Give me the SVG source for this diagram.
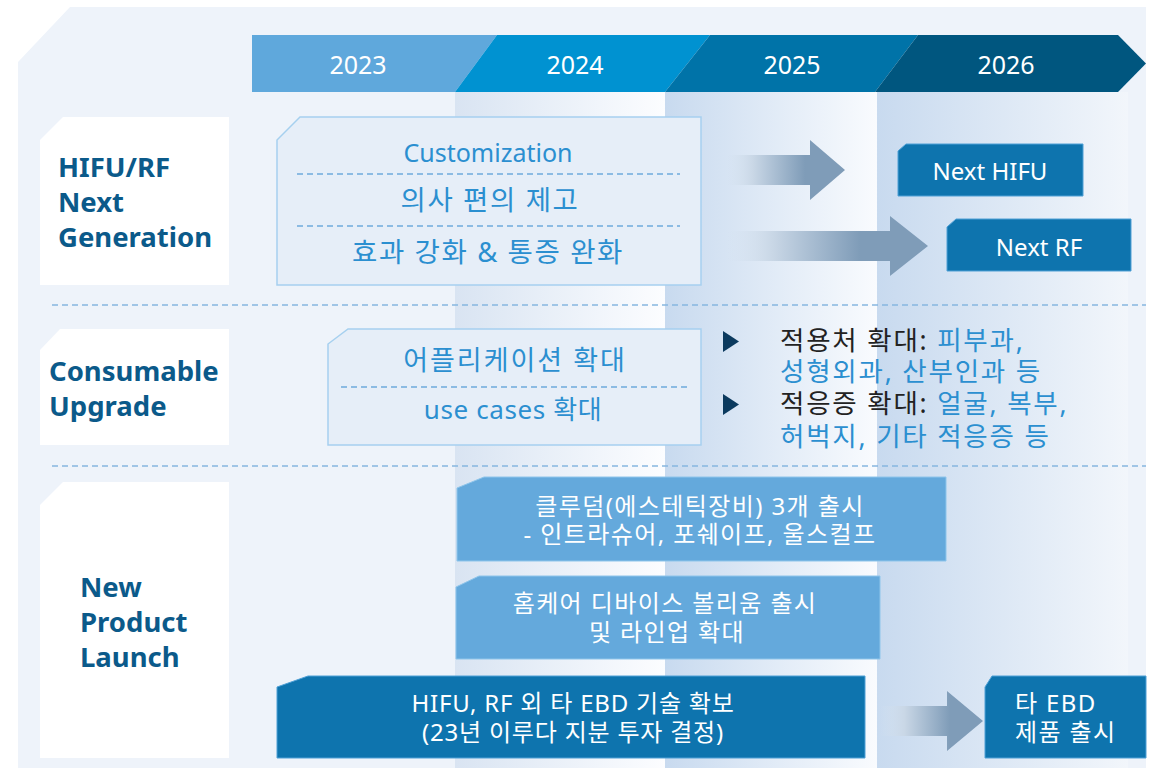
<svg xmlns="http://www.w3.org/2000/svg" width="1158" height="768" viewBox="0 0 1158 768">
<defs>
<style>
text{font-family:"Noto Sans","Noto Sans CJK KR",sans-serif;}
.yr{fill:#fff;font-size:25px;text-anchor:middle;}
.lbl{fill:#0B5A8A;font-size:27.5px;font-weight:700;}
.lblbox{fill:#fff;}
.cbox{fill:#E6EEF8;stroke:#A6D0EF;stroke-width:1.5;}
.ct{fill:#2B8FD0;text-anchor:middle;}
.kr{letter-spacing:1.6px;}
.dash{stroke:#6FAADC;stroke-width:1.5;stroke-dasharray:6 4;fill:none;}
.sep{stroke:#86B6DF;stroke-width:1.5;stroke-dasharray:6 4;fill:none;}
.lt{fill:#64A9DC;stroke:#8EC5EB;stroke-width:1;}
.dk{fill:#0E74AE;stroke:#4FA0D6;stroke-width:1;}
.wt{fill:#fff;font-size:24px;text-anchor:middle;letter-spacing:1.4px;}
.bt{font-size:26.5px;letter-spacing:1.8px;}
.k{fill:#222;}
.b{fill:#2B8FD0;}
.tri{fill:#0B3A5E;}
</style>
<linearGradient id="g24" x1="455" y1="0" x2="665" y2="0" gradientUnits="userSpaceOnUse">
<stop offset="0" stop-color="#D9E4F2"/><stop offset="1" stop-color="#FCFDFF"/></linearGradient>
<linearGradient id="g25" x1="665" y1="0" x2="877" y2="0" gradientUnits="userSpaceOnUse">
<stop offset="0" stop-color="#C8DAEF"/><stop offset="1" stop-color="#F9FBFE"/></linearGradient>
<linearGradient id="g26" x1="877" y1="0" x2="1128" y2="0" gradientUnits="userSpaceOnUse">
<stop offset="0" stop-color="#C8DAEF"/><stop offset="1" stop-color="#F2F6FB"/></linearGradient>
<linearGradient id="a1" x1="725" y1="0" x2="805" y2="0" gradientUnits="userSpaceOnUse">
<stop offset="0" stop-color="#D6E3F1" stop-opacity="0"/><stop offset="0.35" stop-color="#C9D7E6"/><stop offset="1" stop-color="#7F9CB8"/></linearGradient>
<linearGradient id="a2" x1="725" y1="0" x2="860" y2="0" gradientUnits="userSpaceOnUse">
<stop offset="0" stop-color="#D6E3F1" stop-opacity="0"/><stop offset="0.35" stop-color="#C9D7E6"/><stop offset="1" stop-color="#7F9CB8"/></linearGradient>
<linearGradient id="a3" x1="880" y1="0" x2="950" y2="0" gradientUnits="userSpaceOnUse">
<stop offset="0" stop-color="#D6E3F1" stop-opacity="0"/><stop offset="0.35" stop-color="#C9D7E6"/><stop offset="1" stop-color="#7F9CB8"/></linearGradient>
</defs>

<rect width="1158" height="768" fill="#fff"/>
<g id="background">
<polygon points="70,7 1146,7 1146,768 18,768 18,62" fill="#EEF3FA"/>
<rect x="455" y="92" width="210" height="676" fill="url(#g24)"/>
<rect x="665" y="92" width="212" height="676" fill="url(#g25)"/>
<rect x="877" y="92" width="251" height="676" fill="url(#g26)"/>
<line class="sep" x1="52" y1="305" x2="1146" y2="305"/>
<line class="sep" x1="52" y1="466" x2="1146" y2="466"/>
</g>

<g id="timeline">
<polygon points="252,35 497,35 455,92 252,92" fill="#5FA8DC"/>
<polygon points="497,35 710,35 665,92 455,92" fill="#0092D1"/>
<polygon points="710,35 918,35 875,92 665,92" fill="#0073A8"/>
<polygon points="918,35 1118,35 1146,63.5 1118,92 875,92" fill="#00567F"/>
<text class="yr" x="358" y="74">2023</text>
<text class="yr" x="575" y="74">2024</text>
<text class="yr" x="792" y="74">2025</text>
<text class="yr" x="1006" y="74">2026</text>
</g>

<g id="label-hifu">
<polygon class="lblbox" points="63,117 229,117 229,285 40,285 40,140"/>
<text class="lbl" x="58" y="177">HIFU/RF</text>
<text class="lbl" x="58" y="212">Next</text>
<text class="lbl" x="58" y="247">Generation</text>
</g>

<g id="box-hifu">
<polygon class="cbox" points="300,117 701,117 701,285 277,285 277,140"/>
<text class="ct" x="488" y="162" font-size="25">Customization</text>
<line class="dash" x1="297" y1="174" x2="680" y2="174"/>
<text class="ct kr" x="490" y="210" font-size="27.5">의사 편의 제고</text>
<line class="dash" x1="297" y1="226" x2="680" y2="226"/>
<text class="ct kr" x="488" y="262" font-size="27.5">효과 강화 &amp; 통증 완화</text>
</g>

<g id="next-hifu">
<polygon class="dk" points="906,144 1083,144 1083,196 898,196 898,151"/>
<text class="wt" x="990" y="180" font-size="23" style="letter-spacing:0">Next HIFU</text>
</g>

<g id="next-rf">
<polygon class="dk" points="956,219 1131,219 1131,271 947,271 947,227"/>
<text class="wt" x="1039" y="256" font-size="23" style="letter-spacing:0">Next RF</text>
</g>

<g id="label-consumable">
<polygon class="lblbox" points="60,329 229,329 229,445 40,445 40,350"/>
<text class="lbl" x="49" y="381">Consumable</text>
<text class="lbl" x="49" y="416">Upgrade</text>
</g>

<g id="box-consumable">
<polygon class="cbox" points="348,329 701,329 701,445 328,445 328,344"/>
<text class="ct kr" x="515" y="370" font-size="27" style="letter-spacing:2px">어플리케이션 확대</text>
<line class="dash" x1="341" y1="387" x2="690" y2="387"/>
<text class="ct" x="513" y="419" font-size="26" style="letter-spacing:0.6px">use cases 확대</text>
</g>

<g id="bullets">
<polygon class="tri" points="723,331 739,341.5 723,352"/>
<polygon class="tri" points="723,394 739,404.5 723,415"/>
<text class="bt" x="780" y="350"><tspan class="k">적용처 확대: </tspan><tspan class="b">피부과,</tspan></text>
<text class="bt b" x="780" y="381">성형외과, 산부인과 등</text>
<text class="bt" x="780" y="413"><tspan class="k">적응증 확대: </tspan><tspan class="b">얼굴, 복부,</tspan></text>
<text class="bt b" x="780" y="446">허벅지, 기타 적응증 등</text>
</g>

<g id="label-npl">
<polygon class="lblbox" points="63,482 229,482 229,758 40,758 40,505"/>
<text class="lbl" x="80" y="597">New</text>
<text class="lbl" x="80" y="632">Product</text>
<text class="lbl" x="80" y="667">Launch</text>
</g>

<g id="box-clu">
<polygon class="lt" points="484,477 946,477 946,561 457,561 457,488"/>
<text class="wt" x="700" y="515">클루덤(에스테틱장비) 3개 출시</text>
<text class="wt" x="700" y="543">- 인트라슈어, 포쉐이프, 울스컬프</text>
</g>

<g id="box-home">
<polygon class="lt" points="479,576 880,576 880,659 456,659 456,587"/>
<text class="wt" x="665" y="612">홈케어 디바이스 볼리움 출시</text>
<text class="wt" x="667" y="641">및 라인업 확대</text>
</g>

<g id="box-ebd">
<polygon class="dk" points="308,676 865,676 865,758 277,758 277,687"/>
<text class="wt" x="573" y="712" style="letter-spacing:0.8px">HIFU, RF 외 타 EBD 기술 확보</text>
<text class="wt" x="573" y="741" style="letter-spacing:0.8px">(23년 이루다 지분 투자 결정)</text>
</g>

<g id="box-ebd-launch">
<polygon class="dk" points="992,676 1146,676 1146,758 985,758 985,687"/>
<text class="wt" x="1015" y="712" style="text-anchor:start">타 EBD</text>
<text class="wt" x="1015" y="741" style="text-anchor:start">제품 출시</text>
</g>

<g id="connectors">
<polygon points="725,155 810,155 810,140 845,170 810,200 810,185 725,185" fill="url(#a1)"/>
<polygon points="725,231 890,231 890,216 928,246 890,276 890,261 725,261" fill="url(#a2)"/>
<polygon points="880,706 947,706 947,691 983,721 947,751 947,736 880,736" fill="url(#a3)"/>
</g>
</svg>
